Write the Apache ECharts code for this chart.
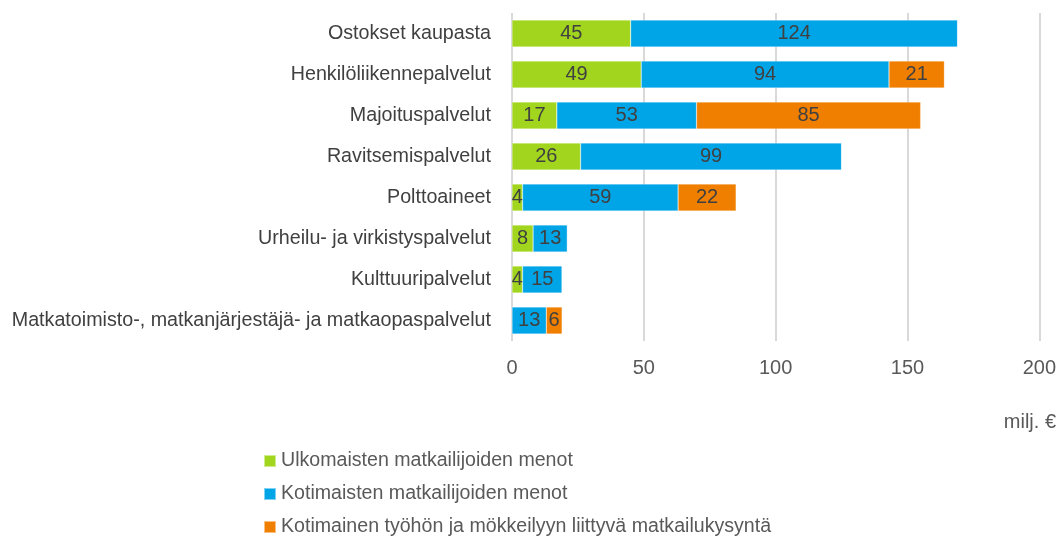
<!DOCTYPE html>
<html>
<head>
<meta charset="utf-8">
<script src="https://cdn.jsdelivr.net/npm/echarts@6/dist/echarts.min.js"></script>
<style>
  html, body { margin: 0; padding: 0; background: #fff; }
  #chart { width: 1059px; height: 548px; }
</style>
</head>
<body>
<div id="chart"></div>
<script>
const categories = [
  'Ostokset kaupasta',
  'Henkilöliikennepalvelut',
  'Majoituspalvelut',
  'Ravitsemispalvelut',
  'Polttoaineet',
  'Urheilu- ja virkistyspalvelut',
  'Kulttuuripalvelut',
  'Matkatoimisto-, matkanjärjestäjä- ja matkaopaspalvelut'
]
const seriesNames = [
  'Ulkomaisten matkailijoiden menot',
  'Kotimaisten matkailijoiden menot',
  'Kotimainen työhön ja mökkeilyyn liittyvä matkailukysyntä'
]
const foreignSpend = [45, 49, 17, 26, 4, 8, 4, 0]
const domesticSpend = [124, 94, 53, 99, 59, 13, 15, 13]
const workCottage = [0, 21, 85, 0, 22, 0, 0, 6]
const xTicks = [0, 50, 100, 150, 200]

const colors = ['#a2d61e', '#00a5e8', '#f07f00']
const fontFamily = "'Liberation Sans', Arial, sans-serif"

let chart = echarts.init(document.getElementById('chart'))

// yksi pinottu sarja per ryhmä
let makeSeries = function(name, values, color) {
  return {
    name: name,
    type: 'bar',
    stack: 'total',
    barWidth: 27,
    data: values,
    itemStyle: {
      color: color,
      borderColor: 'rgba(255,255,255,0.5)',
      borderWidth: 0.5
    },
    label: {
      show: true,
      position: 'inside',
      color: '#404040',
      fontFamily: fontFamily,
      fontSize: 20,
      formatter: function(p) {
        return p.value ? p.value : ''
      }
    }
  }
}

let option = {
  animation: false,
  textStyle: { fontFamily: fontFamily },
  title: {
    text: 'milj. €',
    right: 3,
    top: 412,
    padding: 0,
    textStyle: {
      color: '#595959',
      fontSize: 20,
      fontWeight: 'normal',
      fontFamily: fontFamily
    }
  },
  legend: {
    orient: 'vertical',
    left: 263,
    top: 451,
    padding: 0,
    itemWidth: 12,
    itemHeight: 12,
    itemGap: 13,
    icon: 'rect',
    data: seriesNames,
    textStyle: {
      color: '#595959',
      fontSize: 19.6,
      fontFamily: fontFamily
    }
  },
  grid: {
    left: 512,
    right: 18,
    top: 13,
    height: 328,
    containLabel: false
  },
  xAxis: {
    type: 'value',
    min: xTicks[0],
    max: xTicks[xTicks.length - 1],
    interval: 50,
    axisLine: { show: false },
    axisTick: { show: false },
    axisLabel: {
      color: '#595959',
      fontSize: 20,
      fontFamily: fontFamily,
      margin: 17
    },
    splitLine: {
      lineStyle: { color: '#d9d9d9', width: 2 }
    }
  },
  yAxis: {
    type: 'category',
    inverse: true,
    data: categories,
    axisLine: { show: false },
    axisTick: { show: false },
    axisLabel: {
      color: '#404040',
      fontSize: 19.7,
      fontFamily: fontFamily,
      margin: 21
    }
  },
  series: [
    makeSeries(seriesNames[0], foreignSpend, colors[0]),
    makeSeries(seriesNames[1], domesticSpend, colors[1]),
    makeSeries(seriesNames[2], workCottage, colors[2])
  ]
}

chart.setOption(option)
</script>
</body>
</html>
